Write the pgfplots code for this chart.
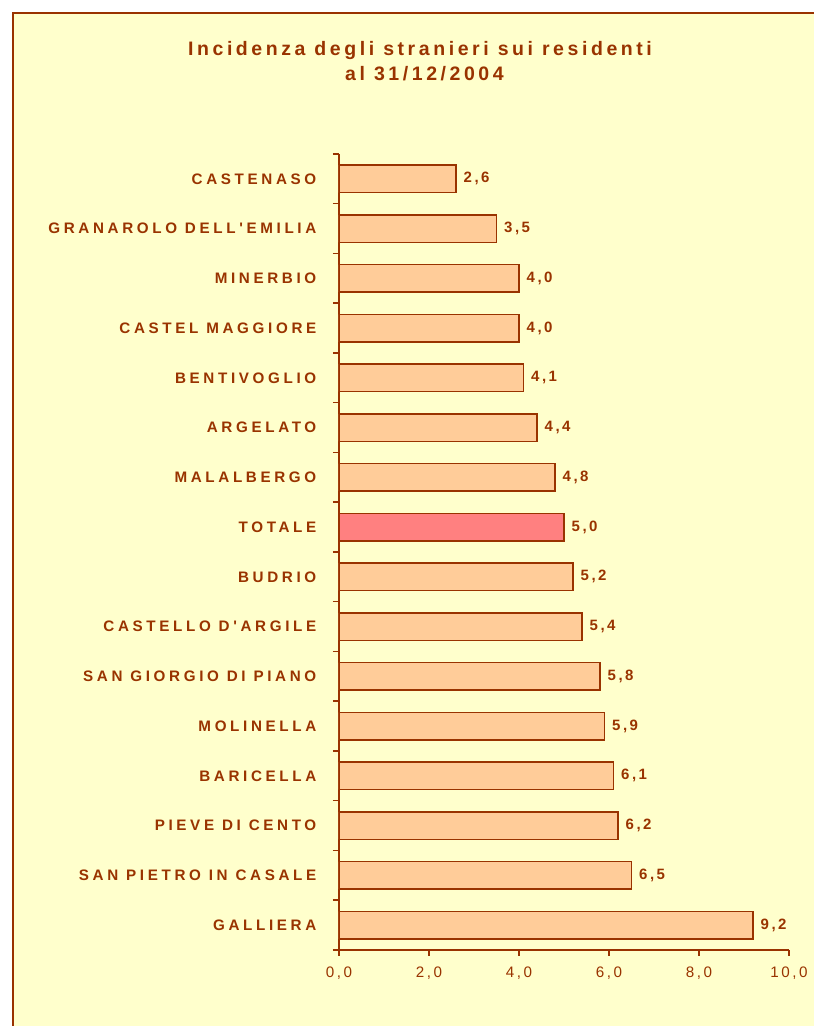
\documentclass[border=0pt]{standalone}
\usepackage{fontspec}
\setmainfont{Liberation Sans}
\usepackage{pgfplots}
\pgfplotsset{compat=1.18}
\definecolor{txt}{HTML}{993300}
\definecolor{bg}{HTML}{FFFFCC}
\definecolor{barf}{HTML}{FFCC99}
\definecolor{totf}{HTML}{FF8080}
\newfontfamily\labfont[LetterSpace=24]{Liberation Sans}
\newfontfamily\spfont[LetterSpace=17]{Liberation Sans}
\newfontfamily\titfont[LetterSpace=18.3]{Liberation Sans}
\begin{document}
\begin{tikzpicture}
\useasboundingbox (-339pt,-76pt) rectangle (475pt,950pt);
\fill[bg] (-326pt,-77pt) rectangle (476pt,937pt);
\draw[txt, line width=2pt] (-326pt,-78pt) -- (-326pt,937pt) -- (477pt,937pt);
\begin{axis}[
  at={(0,0)}, anchor=south west,
  scale only axis, width=450pt, height=796pt,
  xmin=0, xmax=10, ymin=-0.5, ymax=15.5,
  axis x line*=bottom, axis y line*=left,
  axis line style={txt, line width=1.8pt},
  xtick={0,2,4,6,8,10},
  xticklabels={{0,0},{2,0},{4,0},{6,0},{8,0},{10,0}},
  ytick={0,...,15},
  yticklabels={GALLIERA, SAN PIETRO IN CASALE, PIEVE DI CENTO, BARICELLA, MOLINELLA, SAN GIORGIO DI PIANO, CASTELLO D'ARGILE, BUDRIO, TOTALE, MALALBERGO, ARGELATO, BENTIVOGLIO, CASTEL MAGGIORE, MINERBIO, GRANAROLO DELL'EMILIA, CASTENASO},
  minor ytick={-0.5,0.5,...,15.5},
  tick align=outside, tick pos=left,
  major tick length=5.5pt, minor tick length=6pt,
  tick style={txt, line width=1.5pt},
  major y tick style={draw=none},
  xticklabel style={font=\spfont\fontsize{15.2}{18}\selectfont, text=txt, yshift=-8pt},
  yticklabel style={font=\labfont\bfseries\fontsize{15.2}{18}\selectfont, text=txt, inner sep=0pt, xshift=-17pt},
  xbar, bar width=27.5pt,
  nodes near coords,
  every node near coord/.append style={font=\spfont\bfseries\fontsize{15}{18}\selectfont, text=txt, anchor=west, inner sep=0pt, xshift=7pt},
  /pgf/number format/.cd, use comma, fixed, fixed zerofill, precision=1, assume math mode=true
]
\addplot[draw=txt, fill=barf, line width=1.3pt, bar shift=0pt] coordinates {
  (9.2,0) (6.5,1) (6.2,2) (6.1,3) (5.9,4) (5.8,5) (5.4,6) (5.2,7)
  (4.8,9) (4.4,10) (4.1,11) (4.0,12) (4.0,13) (3.5,14) (2.6,15)};
\addplot[draw=txt, fill=totf, line width=1.3pt, bar shift=0pt] coordinates {(5.0,8)};
\end{axis}
\node[anchor=base, text=txt, font=\titfont\bfseries\fontsize{19.5}{22}\selectfont] at (81pt,894pt) {Incidenza degli stranieri sui residenti};
\node[anchor=base, text=txt, font=\titfont\bfseries\fontsize{19.5}{22}\selectfont] at (85.5pt,869pt) {al 31/12/2004};
\end{tikzpicture}
\end{document}
